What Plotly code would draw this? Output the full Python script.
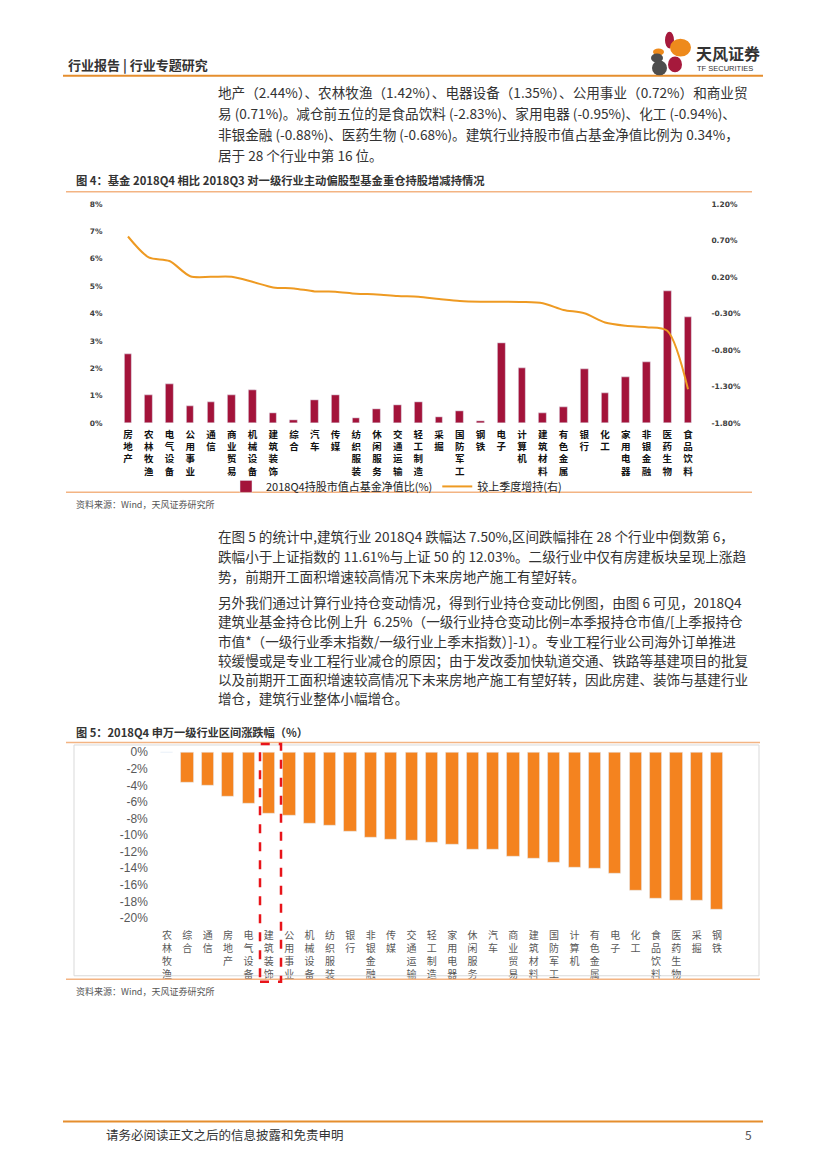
import plotly.graph_objects as go

# ---------------- data ----------------
cats1 = ['房地产', '农林牧渔', '电气设备', '公用事业', '通信', '商业贸易', '机械设备', '建筑装饰',
         '综合', '汽车', '传媒', '纺织服装', '休闲服务', '交通运输', '轻工制造', '采掘', '国防军工',
         '钢铁', '电子', '计算机', '建筑材料', '有色金属', '银行', '化工', '家用电器', '非银金融',
         '医药生物', '食品饮料']
hold_ratio = [2.53, 1.03, 1.44, 0.63, 0.75, 1.03, 1.21, 0.35, 0.12, 0.85, 1.03, 0.19, 0.52, 0.66,
              0.75, 0.21, 0.42, 0.06, 2.92, 2.02, 0.35, 0.60, 1.98, 1.08, 1.69, 2.24, 4.82, 3.87]
qoq_change = [0.756, 0.47, 0.42, 0.212, 0.203, 0.203, 0.135, 0.058, 0.045, 0.004, 0.0, -0.028,
              -0.037, -0.06, -0.069, -0.10, -0.128, -0.137, -0.137, -0.141, -0.159, -0.25, -0.295,
              -0.422, -0.467, -0.486, -0.535, -1.337]
left_ticks = [0, 1, 2, 3, 4, 5, 6, 7, 8]
left_labels = ['0%', '1%', '2%', '3%', '4%', '5%', '6%', '7%', '8%']
right_ticks = [1.2, 0.7, 0.2, -0.3, -0.8, -1.3, -1.8]
right_labels = ['1.20%', '0.70%', '0.20%', '-0.30%', '-0.80%', '-1.30%', '-1.80%']

cats2 = ['农林牧渔', '综合', '通信', '房地产', '电气设备', '建筑装饰', '公用事业', '机械设备',
         '纺织服装', '银行', '非银金融', '传媒', '交通运输', '轻工制造', '家用电器', '休闲服务',
         '汽车', '商业贸易', '建筑材料', '国防军工', '计算机', '有色金属', '电子', '化工',
         '食品饮料', '医药生物', '采掘', '钢铁']
returns2 = [-0.1, -3.67, -3.98, -5.38, -6.25, -7.45, -7.69, -8.65, -8.84, -9.52, -10.28, -10.48,
            -10.68, -10.92, -11.08, -11.71, -11.75, -12.55, -12.79, -13.31, -13.94, -14.02,
            -14.66, -16.73, -17.65, -17.89, -17.93, -18.92]
y3_ticks = [0, -2, -4, -6, -8, -10, -12, -14, -16, -18, -20]
y3_labels = ['0%', '-2%', '-4%', '-6%', '-8%', '-10%', '-12%', '-14%', '-16%', '-18%', '-20%']

para1 = ['地产（2.44%）、农林牧渔（1.42%）、电器设备（1.35%）、公用事业（0.72%）和商业贸',
         '易 (0.71%)。减仓前五位的是食品饮料 (-2.83%)、家用电器 (-0.95%)、化工 (-0.94%)、',
         '非银金融 (-0.88%)、医药生物 (-0.68%)。建筑行业持股市值占基金净值比例为 0.34%，',
         '居于 28 个行业中第 16 位。']
para2 = ['在图 5 的统计中,建筑行业 2018Q4 跌幅达 7.50%,区间跌幅排在 28 个行业中倒数第 6，',
         '跌幅小于上证指数的 11.61%与上证 50 的 12.03%。二级行业中仅有房建板块呈现上涨趋',
         '势，前期开工面积增速较高情况下未来房地产施工有望好转。']
para3 = ['另外我们通过计算行业持仓变动情况，得到行业持仓变动比例图，由图 6 可见，2018Q4',
         '建筑业基金持仓比例上升  6.25%（一级行业持仓变动比例=本季报持仓市值/[上季报持仓',
         '市值*（一级行业季末指数/一级行业上季末指数）]-1）。专业工程行业公司海外订单推进',
         '较缓慢或是专业工程行业减仓的原因；由于发改委加快轨道交通、铁路等基建项目的批复',
         '以及前期开工面积增速较高情况下未来房地产施工有望好转，因此房建、装饰与基建行业',
         '增仓，建筑行业整体小幅增仓。']

# ---------------- page geometry helpers ----------------
W, H = 827, 1169
def px(x):
    return x / W
def py(y):
    return 1 - y / H

CJK = 'Noto Sans CJK SC'
CRIMSON = '#A3133A'
LINE_OR = '#EE9A22'
BAR_OR = '#F4831F'
HEAD_OR = '#E58E2E'
LIGHT_OR = '#F3B483'
TXT = '#333333'

def vert(s):
    return '<br>'.join(list(s))

fig = go.Figure()
fig.add_trace(go.Bar(x=cats1, y=hold_ratio, name='2018Q4持股市值占基金净值比(%)',
                     marker_color=CRIMSON, width=0.37, xaxis='x', yaxis='y'))
fig.add_trace(go.Scatter(x=cats1, y=qoq_change, name='较上季度增持(右)', mode='lines',
                         line=dict(color=LINE_OR, width=2, shape='spline', smoothing=0.8),
                         xaxis='x', yaxis='y2'))
fig.add_trace(go.Bar(x=cats2, y=returns2, marker_color=BAR_OR, width=0.6,
                     xaxis='x3', yaxis='y3', showlegend=False))

ann = []
def add_text(x, y, text, size, color=TXT, bold=False, family=CJK, xanchor='left'):
    ann.append(dict(x=px(x), y=py(y), xref='paper', yref='paper', text=text, showarrow=False,
                    xanchor=xanchor, yanchor='middle',
                    font=dict(family=family, size=size, color=color,
                              weight='bold' if bold else 'normal')))

# header
add_text(66, 60, '行业报告 | 行业专题研究', 13, bold=True)
add_text(694, 48, '天风证券', 16, bold=True)
add_text(695, 64, 'TF SECURITIES', 7.5, family='Liberation Sans Narrow, Liberation Sans')
# paragraphs
for i, s in enumerate(para1):
    add_text(216, [88, 109, 130, 151][i], s, 13.6)
for i, s in enumerate(para2):
    add_text(216, [536, 556, 576][i], s, 13.6)
for i, s in enumerate(para3):
    add_text(216, [603, 622, 642, 661, 680, 700][i], s, 13.6)
# titles & sources
add_text(74, 177, '图 4：基金 2018Q4 相比 2018Q3 对一级行业主动偏股型基金重仓持股增减持情况', 11.3, bold=True)
add_text(74, 504, '资料来源：Wind，天风证券研究所', 9, color='#555555')
add_text(74, 734, '图 5：2018Q4 申万一级行业区间涨跌幅（%）', 11.2, bold=True)
add_text(74, 996, '资料来源：Wind，天风证券研究所', 9, color='#555555')
# footer
add_text(104, 1140, '请务必阅读正文之后的信息披露和免责申明', 12.5)
add_text(754, 1140, '5', 12, color='#555555', xanchor='right')

shapes = []
def hline(y, x0, x1, color, width):
    shapes.append(dict(type='line', xref='paper', yref='paper', x0=px(x0), x1=px(x1),
                       y0=py(y), y1=py(y), line=dict(color=color, width=width)))

hline(71.5, 63, 763, HEAD_OR, 2)
hline(188.5, 66, 752, LIGHT_OR, 1.5)
hline(492, 66, 752, LIGHT_OR, 1.5)
hline(744.5, 66, 760, LIGHT_OR, 1.5)
hline(983.5, 66, 760, LIGHT_OR, 1.5)
hline(1127, 63, 763, HEAD_OR, 2)
# chart 2 frame
shapes.append(dict(type='rect', xref='paper', yref='paper', x0=px(74), x1=px(759),
                   y0=py(980), y1=py(747), line=dict(color='#D9D9D9', width=1)))
# red dashed highlight
shapes.append(dict(type='rect', xref='paper', yref='paper', x0=px(260), x1=px(281),
                   y0=py(986), y1=py(746), line=dict(color='#E8141A', width=2.5, dash='dash')))
# logo petals
petals = [((665, 674, 27, 44), '#A6193C'), ((670, 691, 34, 52), '#EE8A1C'),
          ((653, 664, 44, 51), '#EE8A1C'), ((651, 663, 49, 58), '#4D4D4D'),
          ((652, 667, 56, 71), '#4D4D4D'), ((668, 682, 52, 68), '#A6193C')]
for (x0, x1, y0, y1), c in petals:
    shapes.append(dict(type='circle', xref='paper', yref='paper', x0=px(x0), x1=px(x1),
                       y0=py(y1), y1=py(y0), fillcolor=c, line=dict(width=0)))

ax1_tick = dict(family='DejaVu Sans', size=7.5, color='#404040', weight='bold')
fig.update_layout(
    width=W, height=H, margin=dict(l=0, r=0, t=0, b=0),
    paper_bgcolor='white', plot_bgcolor='rgba(0,0,0,0)',
    showlegend=True, bargap=0,
    legend=dict(orientation='h', x=px(226), y=py(486), xanchor='left', yanchor='middle',
                font=dict(family=CJK, size=11, color='#222222'), bgcolor='rgba(0,0,0,0)',
                itemwidth=30),
    xaxis=dict(domain=[px(117.6), px(698.4)], anchor='y', type='category',
               tickmode='array', tickvals=cats1, ticktext=[vert(c) for c in cats1],
               tickfont=dict(family=CJK, size=9.5, color='#111111', weight='bold'),
               showgrid=False, showline=False, zeroline=False, ticks='', ticklabelstandoff=4),
    yaxis=dict(domain=[py(422), py(201)], anchor='x', range=[0, 8],
               tickmode='array', tickvals=left_ticks, ticktext=left_labels, tickfont=ax1_tick,
               showgrid=False, zeroline=False, showline=False, ticks='', ticklabelstandoff=14),
    yaxis2=dict(overlaying='y', anchor='x', side='right', range=[-1.8, 1.2],
                tickmode='array', tickvals=right_ticks, ticktext=right_labels, tickfont=ax1_tick,
                showgrid=False, zeroline=False, showline=False, ticks='', ticklabelstandoff=12),
    xaxis3=dict(domain=[px(156.8), px(727.2)], anchor='y3', type='category',
                tickmode='array', tickvals=cats2, ticktext=[vert(c) for c in cats2],
                tickfont=dict(family=CJK, size=10, color='#595959'),
                showgrid=False, showline=False, zeroline=False, ticks='', ticklabelstandoff=8),
    yaxis3=dict(domain=[py(923.4), py(752.6)], anchor='x3', range=[-20.2, 0.2],
                tickmode='array', tickvals=y3_ticks, ticktext=y3_labels,
                tickfont=dict(family='Liberation Sans', size=12, color='#595959'),
                showgrid=False, zeroline=False, showline=False, ticks='', ticklabelstandoff=8),
    annotations=ann, shapes=shapes,
)

fig.write_html('out.html', config={'displayModeBar': False},
               post_script="document.body.style.margin='0';")
